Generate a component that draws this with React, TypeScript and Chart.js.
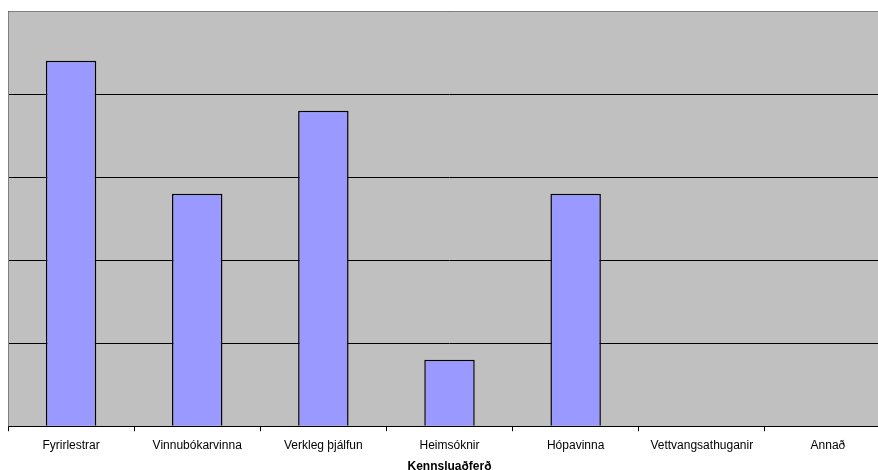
import React, { useEffect, useRef } from "react";
import { Chart, registerables } from "chart.js";

Chart.register(...registerables);

const categories = [
  "Fyrirlestrar",
  "Vinnubókarvinna",
  "Verkleg þjálfun",
  "Heimsóknir",
  "Hópavinna",
  "Vettvangsathuganir",
  "Annað",
];
const values = [22, 14, 19, 4, 14, 0, 0];
const axisTitle = "Kennsluaðferð";
const yMax = 25;
const yStep = 5;

const plotBg = {
  id: "plotBg",
  beforeDraw(chart: any) {
    const { ctx, chartArea } = chart;
    if (!chartArea) return;
    ctx.save();
    ctx.fillStyle = "#C0C0C0";
    ctx.fillRect(chartArea.left, chartArea.top, chartArea.right - chartArea.left, chartArea.bottom - chartArea.top);
    ctx.restore();
  },
  afterDraw(chart: any) {
    const { ctx, chartArea } = chart;
    if (!chartArea) return;
    ctx.save();
    ctx.strokeStyle = "#808080";
    ctx.lineWidth = 1;
    ctx.beginPath();
    ctx.moveTo(chartArea.left + 0.5, chartArea.bottom);
    ctx.lineTo(chartArea.left + 0.5, chartArea.top + 0.5);
    ctx.lineTo(chartArea.right, chartArea.top + 0.5);
    ctx.stroke();
    ctx.restore();
  },
};

export default function App() {
  const ref = useRef<HTMLCanvasElement | null>(null);
  useEffect(() => {
    if (!ref.current) return;
    const chart = new Chart(ref.current, {
      type: "bar",
      data: {
        labels: categories,
        datasets: [
          {
            data: values,
            backgroundColor: "#9999FF",
            borderColor: "#000000",
            borderWidth: 1.5,
            categoryPercentage: 1,
            barPercentage: 0.4,
          },
        ],
      },
      options: {
        animation: false,
        responsive: true,
        maintainAspectRatio: false,
        layout: { padding: { top: 3, left: 0, right: 0, bottom: 0 } },
        plugins: { legend: { display: false }, tooltip: { enabled: false } },
        scales: {
          x: {
            grid: {
              display: true,
              drawOnChartArea: false,
              drawTicks: true,
              tickLength: 5,
              color: "#000000",
              offset: true,
            },
            border: { display: true, color: "#000000", width: 1 },
            ticks: {
              color: "#000000",
              font: { family: "'Liberation Sans', Arial, sans-serif", size: 12 },
              padding: 7,
              maxRotation: 0,
              autoSkip: false,
            },
            title: {
              display: true,
              text: axisTitle,
              color: "#000000",
              font: { family: "'Liberation Sans', Arial, sans-serif", size: 12, weight: "bold" },
              padding: { top: 0, bottom: 2 },
            },
          },
          y: {
            min: 0,
            max: yMax,
            ticks: { display: false, stepSize: yStep },
            grid: { color: "#000000", drawTicks: false, tickLength: 0 },
            border: { display: false },
          },
        },
      },
      plugins: [plotBg],
    });
    return () => chart.destroy();
  }, []);
  return (
    <div style={{ position: "fixed", left: 8, top: 8, width: 870, height: 462, overflow: "hidden" }}>
      <div style={{ width: 883, height: 468, position: "relative" }}>
        <canvas ref={ref} />
      </div>
    </div>
  );
}
